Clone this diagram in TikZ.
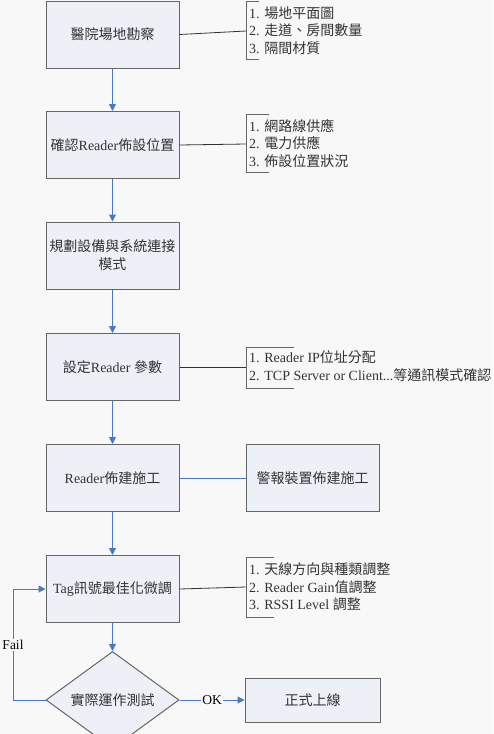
\documentclass[tikz,border=0pt]{standalone}
\usepackage{fontspec}
\setmainfont{Liberation Serif}
\newfontfamily\cjk{Noto Sans CJK TC}
\usetikzlibrary{arrows.meta,shapes.geometric}
\newcommand{\zh}[1]{{\cjk #1}}
\definecolor{bg}{HTML}{F8F8F8}
\definecolor{boxfill}{HTML}{EEF0F8}
\definecolor{boxline}{HTML}{666666}
\definecolor{flow}{HTML}{4A78C8}
\definecolor{txt}{HTML}{333333}
\tikzset{
  stepbox/.style={draw=boxline, line width=1pt, fill=boxfill, minimum width=133pt, minimum height=67pt, inner sep=2pt, align=center, text=txt, font=\fontsize{14}{18}\selectfont},
  decide/.style={draw=boxline, line width=1pt, fill=boxfill, diamond, minimum width=133pt, minimum height=66pt, inner sep=0pt, text=txt, font=\fontsize{14}{18}\selectfont},
  note/.style={anchor=west, align=left, inner sep=0pt, text=txt, font=\fontsize{14}{17.5}\selectfont},
  bracket/.style={draw=boxline, line width=0.8pt},
  link/.style={draw=black!80, line width=0.8pt},
  flowline/.style={draw=flow, line width=1pt},
  flowarrow/.style={flowline, -{Triangle[width=7pt,length=7pt]}},
  lbl/.style={fill=bg, inner sep=1pt, text=black, font=\fontsize{13.5}{16}\selectfont}
}
\begin{document}
\begin{tikzpicture}[x=1pt,y=-1pt]
\fill[bg] (0,0) rectangle (493,734);
\useasboundingbox (0,0) rectangle (493,734);

% main boxes
\node[stepbox] (s1) at (112.5,34.5) {\zh{醫院場地勘察}};
\node[stepbox] (s2) at (112.5,145) {\zh{確認}Reader\zh{佈設位置}};
\node[stepbox, text width=129pt] (s3) at (112.5,255.5) {\zh{規劃設備與系統連接}\\\zh{模式}};
\node[stepbox] (s4) at (112.5,367) {\zh{設定}Reader \zh{參數}};
\node[stepbox] (s5) at (112.5,478) {Reader\zh{佈建施工}};
\node[stepbox] (alarm) at (312.5,478) {\zh{警報裝置佈建施工}};
\node[stepbox] (s6) at (112.5,589) {Tag\zh{訊號最佳化微調}};
\node[decide] (dia) at (112.5,700) {\zh{實際運作測試}};
\node[stepbox, minimum width=135pt, minimum height=44pt] (final) at (312.5,700) {\zh{正式上線}};

% notes
\node[note] (n1) at (249,30.5) {1. \zh{場地平面圖}\\2. \zh{走道、房間數量}\\3. \zh{隔間材質}};
\node[note] (n2) at (249,143.5) {1. \zh{網路線供應}\\2. \zh{電力供應}\\3. \zh{佈設位置狀況}};
\node[note] (n4) at (249,366) {1. Reader IP\zh{位址分配}\\2. TCP Server or Client...\zh{等通訊模式確認}};
\node[note] (n6) at (249,587) {1. \zh{天線方向與種類調整}\\2. Reader Gain\zh{值調整}\\3. RSSI Level \zh{調整}};

% brackets
\coordinate (b1) at (246,31);
\coordinate (b2) at (246,144);
\coordinate (b4) at (246,367);
\coordinate (b6) at (246,587);
\draw[bracket] (259,1) -- (246,1) -- (246,59) -- (259,59);
\draw[bracket] (269,114) -- (246,114) -- (246,172) -- (269,172);
\draw[bracket] (294,347) -- (246,347) -- (246,388) -- (294,388);
\draw[bracket] (274,557) -- (246,557) -- (246,617) -- (274,617);

% links to notes
\draw[link] (s1.east) -- (b1);
\draw[link] (s2.east) -- (b2);
\draw[link] (s4.east) -- (b4);
\draw[link] (s6.east) -- (b6);

% flow
\draw[flowarrow] (s1) -- (s2);
\draw[flowarrow] (s2) -- (s3);
\draw[flowarrow] (s3) -- (s4);
\draw[flowarrow] (s4) -- (s5);
\draw[flowarrow] (s5) -- (s6);
\draw[flowarrow] (s6) -- (dia);
\draw[flowline] (s5) -- (alarm);
\coordinate (fl) at (13,700);
\draw[flowarrow] (dia.west) -- (fl) |- (s6.west);
\node[lbl] (fail) at (13,645) {Fail};
\draw[flowarrow] (dia.east) -- (final.west) node[midway, lbl] {OK};
\end{tikzpicture}
\end{document}
